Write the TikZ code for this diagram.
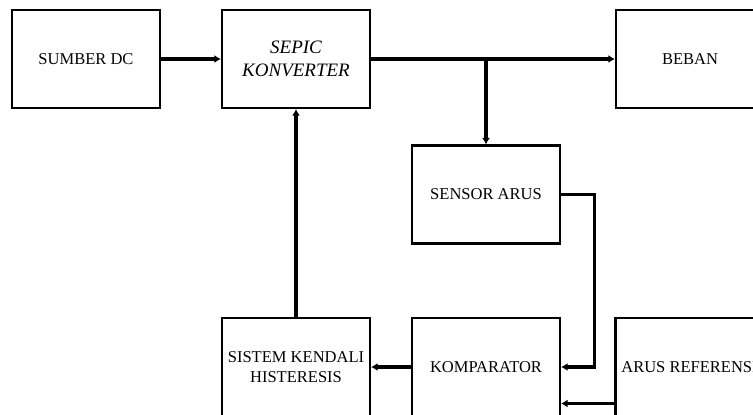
\documentclass[tikz,border=0pt]{standalone}
\usepackage{fontspec}
\setmainfont{Liberation Serif}
\usetikzlibrary{arrows.meta,positioning,calc}

\begin{document}
\begin{tikzpicture}[
  blok/.style={
    draw=black,
    line width=1.2pt,
    minimum width=2.96cm,
    minimum height=1.96cm,
    align=center,
    inner sep=0pt,
    font=\fontsize{9.4}{11.6}\selectfont
  },
  panah/.style={
    line width=2pt,
    -{Latex[length=1.3mm,width=1.6mm]}
  }
]
\useasboundingbox (0,0) rectangle (15.06,-8.28);
\clip (0,0) rectangle (15.06,-8.28);

% -------- Baris atas --------
\node[blok] (sumber) at (1.72, -1.18) {SUMBER DC};
\node[blok, font=\fontsize{10.8}{13.2}\selectfont\itshape] (sepic) at (5.92, -1.18) {SEPIC\\KONVERTER};
\node[blok] (beban)  at (13.80, -1.18) {BEBAN};

% -------- Sensor --------
\node[blok] (sensor) at (9.72, -3.89) {SENSOR ARUS};

% -------- Baris bawah --------
\node[blok] (kendali) at (5.92, -7.34) {SISTEM KENDALI\\HISTERESIS};
\node[blok] (komp)    at (9.72, -7.34) {KOMPARATOR};
\node[blok] (ref)     at (13.79, -7.34) {ARUS REFERENSI};

% -------- Panah --------
\draw[panah] (sumber.east) -- (sepic.west);
\draw[panah] (sepic.east) -- (beban.west);
\draw[panah] (sensor.north |- sepic.east) -- (sensor.north);
\draw[panah] (sensor.east) -- ++(0.67,0) |- (komp.east);
\coordinate (refin) at ($(ref.west)+(0,-0.73)$);
\draw[panah] (refin) -- (komp.east |- refin);
\draw[panah] (komp.west) -- (kendali.east);
\draw[panah] (kendali.north) -- (sepic.south);

\end{tikzpicture}
\end{document}
